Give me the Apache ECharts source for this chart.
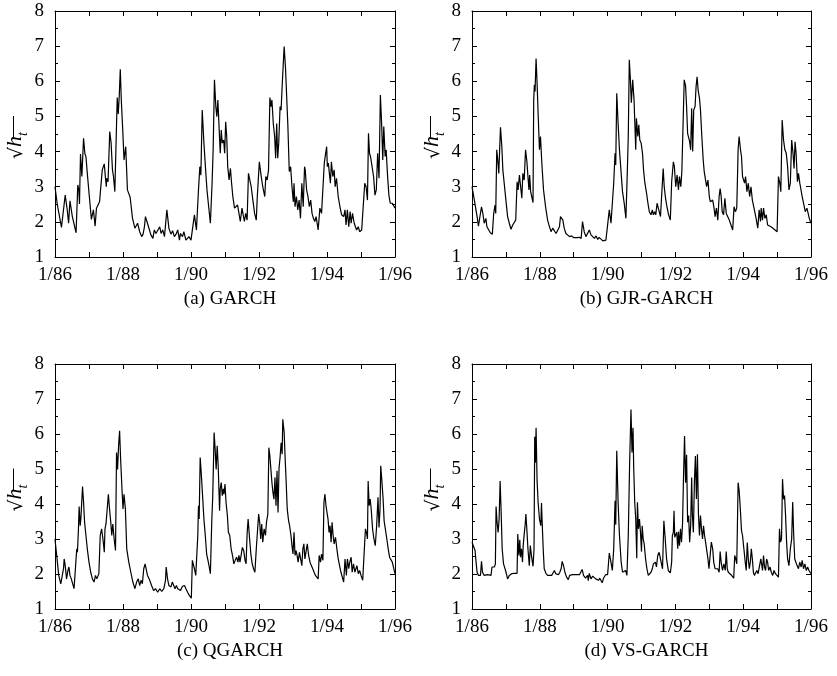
<!DOCTYPE html>
<html>
<head>
<meta charset="utf-8">
<script src="https://cdn.jsdelivr.net/npm/echarts@6/dist/echarts.min.js"></script>
<style>
html,body{margin:0;padding:0;background:#fff;}
#chart{width:837px;height:676px;}
</style>
</head>
<body>
<div id="chart"></div>
<script>
// time = years since 1/86
const tickLabels = ['1/86','1/88','1/90','1/92','1/94','1/96'];
const captions = ['(a) GARCH','(b) GJR-GARCH','(c) QGARCH','(d) VS-GARCH'];

const aT = [0,0.07,0.19,0.30,0.36,0.40,0.44,0.51,0.62,0.67,0.70,0.72,0.75,0.79,0.84,0.88,0.91,0.95,1.01,1.07,1.13,1.18,1.22,1.26,1.31,1.34,1.39,1.43,1.45,1.48,1.51,1.52,1.56,1.61,1.65,1.69,1.72,1.76,1.80,1.83,1.86,1.89,1.92,1.95,1.99,2.03,2.08,2.13,2.21,2.28,2.35,2.43,2.49,2.55,2.59,2.63,2.66,2.70,2.75,2.82,2.88,2.92,2.97,3.02,3.08,3.12,3.17,3.22,3.29,3.35,3.41,3.46,3.51,3.56,3.61,3.66,3.69,3.75,3.79,3.85,3.90,3.94,4.00,4.05,4.10,4.16,4.22,4.26,4.29,4.33,4.38,4.43,4.47,4.52,4.57,4.62,4.65,4.69,4.73,4.76,4.79,4.83,4.86,4.89,4.92,4.96,4.99,5.02,5.05,5.08,5.12,5.16,5.19,5.23,5.28,5.33,5.37,5.41,5.45,5.50,5.53,5.57,5.61,5.65,5.69,5.73,5.77,5.82,5.87,5.92,5.95,6.01,6.06,6.11,6.17,6.20,6.24,6.28,6.32,6.35,6.38,6.42,6.46,6.49,6.52,6.55,6.58,6.62,6.65,6.68,6.71,6.74,6.78,6.81,6.85,6.89,6.93,6.97,7.01,7.03,7.06,7.10,7.14,7.18,7.22,7.26,7.30,7.34,7.36,7.40,7.44,7.48,7.52,7.56,7.60,7.64,7.68,7.74,7.79,7.84,7.88,7.92,7.96,7.99,8.01,8.04,8.07,8.10,8.13,8.17,8.21,8.24,8.28,8.33,8.38,8.43,8.49,8.53,8.56,8.60,8.64,8.68,8.71,8.75,8.80,8.87,8.92,8.96,9.02,9.07,9.11,9.15,9.19,9.22,9.25,9.28,9.31,9.37,9.41,9.45,9.49,9.53,9.57,9.61,9.64,9.67,9.71,9.74,9.78,9.82,9.86,9.92,10.00];
const aV = [3.00,2.48,1.84,2.76,2.34,1.96,2.60,2.15,1.69,3.05,2.91,2.51,3.93,3.29,4.38,3.93,3.86,3.38,2.72,2.07,2.34,1.88,2.39,2.34,2.57,2.62,3.48,3.52,3.65,3.29,3.00,3.24,3.14,4.57,4.24,3.48,3.29,2.86,2.91,5.54,5.07,5.58,6.34,5.47,4.66,3.76,4.14,2.91,2.70,2.10,1.82,1.96,1.72,1.58,1.65,1.86,2.15,2.10,1.86,1.63,1.53,1.77,1.67,1.65,1.86,1.67,1.77,1.58,2.34,1.82,1.65,1.75,1.58,1.65,1.77,1.48,1.67,1.58,1.72,1.48,1.44,1.58,1.48,1.48,2.20,1.77,2.91,3.57,3.33,5.18,4.24,3.48,2.91,2.43,1.96,3.10,4.00,6.04,5.28,4.99,5.47,4.61,3.95,4.61,4.24,4.33,3.95,4.85,4.43,3.57,3.19,3.52,3.14,2.72,2.39,2.34,2.48,2.24,2.01,2.39,2.34,2.01,2.24,2.05,3.38,3.19,3.00,2.62,2.24,2.05,2.72,3.71,3.33,3.00,2.72,3.29,3.19,3.48,5.54,5.28,5.47,4.80,4.43,3.81,4.80,3.81,4.24,5.28,5.18,5.83,6.42,6.99,6.37,5.66,4.71,3.43,3.57,3.00,2.57,3.10,2.43,2.72,2.34,2.62,2.10,3.10,2.43,3.57,3.48,2.91,2.72,2.43,2.62,2.24,2.10,2.01,2.15,1.77,2.39,2.24,2.29,3.67,3.95,4.14,3.57,3.67,3.38,3.10,3.71,3.29,3.48,3.00,3.24,2.72,2.43,2.20,2.15,2.34,1.91,2.34,1.86,2.29,1.96,2.24,1.96,1.77,1.86,1.72,1.77,1.72,3.10,3.00,2.62,4.52,3.95,3.86,3.67,3.29,2.76,2.91,3.95,3.24,5.61,4.71,3.76,4.71,3.86,4.05,3.33,2.76,2.53,2.53,2.39];

const bT = [0.00,0.07,0.15,0.19,0.23,0.28,0.32,0.36,0.41,0.44,0.49,0.54,0.60,0.64,0.68,0.70,0.73,0.76,0.79,0.84,0.88,0.91,0.95,1.00,1.05,1.10,1.15,1.20,1.25,1.29,1.33,1.36,1.40,1.44,1.47,1.50,1.54,1.58,1.62,1.65,1.68,1.70,1.73,1.77,1.80,1.82,1.84,1.86,1.89,1.92,1.95,1.99,2.02,2.06,2.11,2.17,2.23,2.28,2.33,2.38,2.43,2.48,2.53,2.58,2.61,2.65,2.68,2.72,2.77,2.82,2.88,2.94,3.00,3.05,3.10,3.16,3.22,3.26,3.31,3.36,3.41,3.46,3.51,3.56,3.61,3.66,3.71,3.75,3.80,3.86,3.90,3.95,4.00,4.05,4.10,4.14,4.18,4.22,4.24,4.27,4.31,4.35,4.40,4.44,4.49,4.54,4.58,4.61,4.64,4.67,4.70,4.74,4.78,4.83,4.85,4.89,4.92,4.95,4.99,5.03,5.06,5.10,5.15,5.19,5.23,5.28,5.32,5.35,5.39,5.42,5.46,5.51,5.56,5.60,5.64,5.67,5.71,5.75,5.80,5.85,5.89,5.94,5.97,6.01,6.05,6.09,6.12,6.16,6.19,6.22,6.26,6.30,6.33,6.36,6.39,6.42,6.45,6.48,6.51,6.54,6.58,6.61,6.64,6.67,6.71,6.74,6.78,6.82,6.85,6.89,6.92,6.96,7.00,7.03,7.07,7.10,7.14,7.17,7.21,7.25,7.29,7.32,7.35,7.38,7.42,7.46,7.50,7.54,7.59,7.64,7.69,7.73,7.77,7.81,7.85,7.88,7.92,7.95,7.98,8.01,8.04,8.07,8.11,8.15,8.19,8.23,8.27,8.33,8.38,8.43,8.47,8.51,8.53,8.57,8.60,8.64,8.68,8.72,8.77,8.82,8.87,8.94,9.00,9.04,9.08,9.11,9.15,9.19,9.23,9.27,9.31,9.35,9.39,9.43,9.47,9.50,9.53,9.56,9.60,9.63,9.67,9.71,9.74,9.78,9.83,9.88,9.95,10.00];
const bV = [3.00,2.62,2.15,1.88,1.91,2.43,2.24,1.96,2.10,1.86,1.82,1.69,1.65,2.24,2.48,2.24,4.05,3.76,3.38,4.69,4.14,3.48,3.10,2.62,2.15,1.96,1.79,1.91,1.91,2.05,3.14,2.91,3.33,2.95,2.67,3.38,3.19,4.05,3.71,3.29,2.91,3.33,2.86,2.81,2.55,5.45,5.90,5.71,6.65,5.94,5.09,4.05,4.43,3.67,2.91,2.43,2.05,1.88,1.72,1.82,1.86,1.67,1.63,1.86,2.15,2.20,2.05,1.82,1.67,1.63,1.58,1.60,1.55,1.58,1.55,1.56,1.53,2.01,1.72,1.58,1.53,1.77,1.63,1.65,1.53,1.60,1.50,1.56,1.51,1.46,1.44,1.48,1.46,2.34,1.96,1.91,3.10,3.95,3.62,5.66,4.80,4.05,3.38,2.86,2.53,2.10,3.38,4.43,6.61,6.09,5.39,6.04,5.47,4.05,4.95,4.43,4.76,4.33,4.24,3.95,3.48,3.10,2.81,2.53,2.29,2.20,2.34,2.20,2.29,2.20,2.53,2.34,2.15,2.15,3.52,3.00,2.67,2.43,2.20,2.05,3.14,3.71,3.57,3.00,3.33,2.91,3.29,3.00,3.43,3.48,6.04,5.87,5.28,4.52,4.52,4.28,4.05,5.23,4.00,5.18,5.28,5.85,6.13,5.75,5.52,5.18,4.43,3.76,3.43,3.19,3.00,3.19,2.72,2.57,2.53,2.62,2.39,2.15,2.39,2.05,2.72,2.95,2.72,2.29,2.20,2.67,2.24,2.20,2.05,1.91,1.77,2.43,2.29,2.39,4.05,4.43,4.05,3.86,3.29,3.33,3.10,3.29,2.86,3.10,2.72,3.00,2.62,2.34,2.10,1.82,2.34,2.01,2.39,2.05,2.39,2.10,2.20,1.91,1.96,1.86,1.86,1.77,1.72,3.29,3.10,2.86,4.90,4.33,4.05,3.95,3.57,2.91,3.10,4.33,3.95,3.52,4.28,3.95,3.14,3.38,3.10,3.05,2.72,2.53,2.29,2.39,2.10,1.96];

const cT = [0.00,0.05,0.11,0.17,0.21,0.25,0.27,0.30,0.34,0.38,0.41,0.44,0.48,0.52,0.56,0.60,0.64,0.66,0.69,0.71,0.74,0.76,0.81,0.84,0.87,0.91,0.95,1.00,1.05,1.10,1.15,1.19,1.23,1.29,1.33,1.37,1.41,1.45,1.47,1.50,1.54,1.57,1.60,1.64,1.67,1.70,1.74,1.78,1.81,1.84,1.87,1.90,1.93,1.97,2.00,2.03,2.07,2.11,2.17,2.23,2.29,2.35,2.40,2.45,2.49,2.53,2.57,2.61,2.65,2.68,2.72,2.77,2.84,2.90,2.96,3.02,3.08,3.14,3.20,3.25,3.27,3.31,3.35,3.41,3.45,3.49,3.53,3.57,3.61,3.65,3.69,3.75,3.81,3.85,3.90,3.95,4.01,4.04,4.10,4.14,4.20,4.22,4.24,4.27,4.30,4.34,4.38,4.42,4.46,4.49,4.53,4.57,4.61,4.64,4.68,4.71,4.74,4.77,4.80,4.84,4.86,4.89,4.92,4.95,4.97,5.00,5.03,5.07,5.10,5.14,5.18,5.22,5.26,5.30,5.34,5.38,5.41,5.44,5.48,5.51,5.55,5.59,5.62,5.65,5.68,5.72,5.76,5.80,5.84,5.88,5.92,5.96,5.99,6.02,6.05,6.08,6.11,6.15,6.19,6.22,6.26,6.29,6.32,6.35,6.38,6.41,6.44,6.47,6.50,6.53,6.56,6.59,6.62,6.65,6.68,6.70,6.74,6.77,6.80,6.83,6.87,6.90,6.94,6.97,7.00,7.03,7.06,7.09,7.12,7.15,7.19,7.23,7.26,7.29,7.32,7.35,7.38,7.42,7.46,7.50,7.54,7.58,7.62,7.66,7.70,7.74,7.77,7.81,7.84,7.88,7.91,7.94,7.97,8.00,8.03,8.06,8.09,8.12,8.15,8.18,8.21,8.25,8.29,8.33,8.37,8.41,8.45,8.49,8.53,8.57,8.60,8.64,8.67,8.71,8.74,8.78,8.82,8.85,8.88,8.92,8.96,9.00,9.05,9.10,9.13,9.16,9.19,9.21,9.24,9.27,9.30,9.34,9.38,9.42,9.46,9.50,9.53,9.56,9.58,9.61,9.65,9.68,9.72,9.76,9.80,9.84,9.88,9.92,9.96,10.00];
const cV = [3.00,2.53,1.96,1.72,1.69,2.15,2.43,2.24,1.86,2.10,2.20,1.96,1.86,1.72,1.58,2.15,2.72,2.62,3.29,3.93,3.38,3.57,4.50,4.05,3.48,3.10,2.72,2.34,2.05,1.86,1.77,1.96,1.86,2.01,3.10,3.29,3.00,2.62,3.29,3.43,3.48,4.28,3.90,3.48,3.10,3.43,3.00,2.67,5.47,4.99,5.66,6.09,5.28,4.43,3.86,4.28,3.86,2.72,2.34,2.05,1.77,1.58,1.77,1.86,1.67,1.82,1.72,2.15,2.29,2.24,1.96,1.86,1.67,1.53,1.58,1.48,1.58,1.50,1.58,1.82,2.20,1.86,1.67,1.63,1.77,1.72,1.58,1.67,1.58,1.63,1.53,1.65,1.67,1.58,1.48,1.39,1.31,2.39,2.15,1.96,3.10,3.95,3.57,5.33,4.90,4.24,3.57,3.10,2.57,2.43,2.24,2.01,3.48,4.24,6.04,5.56,4.99,5.66,5.09,3.81,4.43,4.61,4.24,4.43,4.28,4.57,4.05,3.67,3.19,3.10,2.72,2.53,2.29,2.39,2.48,2.34,2.53,2.34,2.57,2.76,2.67,2.39,2.29,3.14,3.57,3.05,2.57,2.29,2.15,2.05,2.72,3.29,3.71,3.48,3.00,3.43,2.91,3.29,3.10,3.48,3.71,5.61,5.37,4.99,4.61,4.33,4.14,4.76,3.95,4.95,3.76,5.04,5.33,5.75,5.42,6.42,6.04,5.28,4.61,3.86,3.52,3.38,3.10,2.81,2.57,3.19,2.53,2.67,2.53,2.34,2.62,2.57,2.24,2.72,2.86,2.43,2.62,2.86,2.53,2.34,2.24,2.15,2.05,1.96,1.91,1.86,2.53,2.34,2.57,2.39,4.05,4.28,3.95,4.00,3.57,3.19,3.38,2.91,3.48,3.10,2.86,3.05,2.72,2.43,2.24,2.05,1.91,1.77,2.43,1.96,2.43,2.15,2.34,2.48,2.05,2.29,2.05,2.15,2.24,2.01,2.10,1.96,1.82,1.82,3.29,3.19,3.00,4.66,3.95,4.14,3.86,3.29,3.00,2.81,3.38,4.19,3.33,3.86,5.09,4.71,4.14,3.52,3.52,3.00,2.72,2.48,2.53,2.34,2.34,2.01];

const dT = [0.00,0.05,0.09,0.12,0.15,0.19,0.25,0.28,0.31,0.36,0.41,0.46,0.51,0.56,0.59,0.62,0.66,0.69,0.71,0.74,0.77,0.80,0.83,0.86,0.89,0.93,0.99,1.05,1.10,1.17,1.25,1.33,1.35,1.38,1.41,1.43,1.46,1.49,1.51,1.54,1.57,1.59,1.62,1.65,1.69,1.72,1.76,1.80,1.83,1.85,1.87,1.89,1.92,1.95,1.99,2.03,2.05,2.07,2.10,2.13,2.18,2.23,2.29,2.35,2.39,2.43,2.47,2.51,2.55,2.59,2.63,2.66,2.70,2.74,2.79,2.84,2.88,2.92,2.97,3.02,3.07,3.12,3.17,3.22,3.25,3.29,3.35,3.41,3.43,3.46,3.51,3.56,3.61,3.65,3.69,3.73,3.77,3.80,3.84,3.88,3.94,4.00,4.05,4.10,4.14,4.18,4.22,4.24,4.27,4.31,4.35,4.40,4.44,4.49,4.53,4.57,4.61,4.65,4.69,4.72,4.75,4.77,4.80,4.83,4.86,4.88,4.91,4.94,4.97,5.00,5.02,5.05,5.08,5.12,5.16,5.20,5.24,5.28,5.32,5.35,5.38,5.41,5.44,5.48,5.52,5.56,5.60,5.62,5.66,5.70,5.74,5.79,5.85,5.89,5.91,5.94,5.96,5.98,6.01,6.04,6.07,6.09,6.12,6.15,6.18,6.21,6.24,6.27,6.30,6.33,6.36,6.39,6.42,6.45,6.48,6.50,6.53,6.56,6.59,6.62,6.65,6.68,6.71,6.74,6.77,6.80,6.83,6.86,6.89,6.93,6.96,6.99,7.02,7.06,7.10,7.13,7.17,7.21,7.25,7.29,7.32,7.35,7.39,7.43,7.47,7.50,7.53,7.56,7.60,7.64,7.68,7.72,7.75,7.78,7.81,7.85,7.88,7.91,7.95,7.98,8.02,8.06,8.09,8.12,8.15,8.18,8.21,8.24,8.27,8.30,8.33,8.36,8.40,8.44,8.48,8.52,8.55,8.57,8.60,8.63,8.66,8.69,8.72,8.75,8.79,8.83,8.87,8.91,8.95,8.99,9.04,9.07,9.10,9.13,9.16,9.19,9.22,9.25,9.28,9.31,9.35,9.39,9.43,9.46,9.49,9.52,9.56,9.59,9.63,9.67,9.71,9.74,9.78,9.82,9.86,9.90,9.94,10.00];
const dV = [2.91,2.86,2.67,2.34,2.05,1.96,1.96,2.36,2.05,1.96,1.96,1.98,1.96,1.96,2.20,2.22,2.20,2.29,3.93,3.48,3.19,3.57,4.66,3.76,2.72,2.29,2.10,1.86,1.96,2.01,2.02,2.02,3.14,2.53,2.98,2.48,2.72,2.34,2.81,3.14,3.43,3.71,3.24,2.72,2.24,2.81,2.48,2.22,2.72,5.92,5.18,6.18,4.66,4.05,3.57,3.38,4.03,3.48,2.72,2.15,2.02,1.96,1.96,1.96,2.03,2.10,2.01,1.96,1.98,2.05,2.15,2.36,2.24,2.05,1.91,1.84,1.96,1.94,1.98,1.94,1.98,1.94,1.98,1.96,2.13,1.96,1.88,1.96,1.81,2.02,1.86,1.94,1.90,1.86,1.91,1.82,1.88,1.84,1.75,1.88,1.98,1.98,2.60,2.34,2.10,2.72,4.09,3.41,5.52,4.05,3.10,2.34,2.05,2.05,2.10,1.96,3.10,5.18,6.70,5.47,6.18,5.04,4.05,3.57,2.45,4.05,3.29,3.57,3.19,2.64,3.38,3.00,2.86,2.43,2.15,1.96,1.91,2.05,2.15,2.29,2.24,2.34,2.20,2.53,2.62,2.57,2.24,2.15,3.52,3.00,2.43,2.10,2.03,2.34,3.10,3.19,3.81,3.05,3.00,3.19,2.72,3.21,2.81,3.29,2.91,3.43,4.80,5.94,4.61,5.41,3.48,3.67,2.91,3.38,4.76,3.71,3.19,4.61,5.37,4.14,5.42,3.71,3.10,3.67,3.29,3.00,3.38,3.10,2.91,2.95,2.43,2.15,2.10,2.91,2.72,2.34,2.15,2.10,2.15,2.05,2.64,2.34,2.10,2.29,2.10,2.64,2.15,2.05,2.02,1.98,1.96,1.88,2.53,2.43,2.29,4.61,4.38,3.95,3.24,3.10,2.72,2.34,2.10,2.90,2.43,2.15,2.34,2.72,2.43,2.05,1.96,2.01,2.10,2.01,1.96,2.43,2.24,2.10,2.53,2.20,2.10,2.43,2.34,2.10,2.20,2.05,1.96,2.10,2.01,1.96,1.91,3.29,2.91,3.00,4.71,4.14,4.24,3.67,2.91,2.43,2.24,2.72,3.00,4.06,3.10,2.43,2.48,2.24,2.15,2.34,2.20,2.39,2.15,2.29,2.10,2.20,2.10,2.01];

const seriesT = [aT, bT, cT, dT];
const seriesV = [aV, bV, cV, dV];

const FONT = 'Liberation Serif';
const grids = [
  {left: 55, top: 11, width: 340, height: 246},
  {left: 472, top: 11, width: 339, height: 246},
  {left: 55, top: 364, width: 340, height: 245},
  {left: 472, top: 364, width: 339, height: 245}
];

const xAxes = [], yAxes = [], series = [], titles = [], graphics = [];
grids.forEach((g, i) => {
  const common = {
    gridIndex: i, type: 'value', min: 0, max: 10, interval: 1,
    axisLine: {show: true, onZero: false, lineStyle: {color: '#000', width: 1}},
    axisTick: {show: true, inside: true, length: 5, lineStyle: {color: '#000', width: 1}},
    splitLine: {show: false}
  };
  xAxes.push(Object.assign({}, common, {
    position: 'bottom',
    axisLabel: {
      show: true, margin: 9, color: '#000', fontFamily: FONT, fontSize: 19,
      showMinLabel: true, showMaxLabel: true,
      formatter: v => (Math.round(v) % 2 === 0 ? tickLabels[Math.round(v) / 2] : '')
    }
  }));
  xAxes.push(Object.assign({}, common, {position: 'top', axisLabel: {show: false}}));

  const ycommon = {
    gridIndex: i, type: 'value', min: 1, max: 8, interval: 1,
    axisLine: {show: true, onZero: false, lineStyle: {color: '#000', width: 1}},
    axisTick: {show: true, inside: true, length: 5, lineStyle: {color: '#000', width: 1}},
    minorTick: {show: true, splitNumber: 2, length: 3, lineStyle: {color: '#000', width: 1}},
    splitLine: {show: false}, minorSplitLine: {show: false}
  };
  yAxes.push(Object.assign({}, ycommon, {
    position: 'left',
    axisLabel: {show: true, margin: 11, color: '#000', fontFamily: FONT, fontSize: 19},
    name: '{r|√}{h|h}{t|t}{sp| }',
    nameLocation: 'middle', nameRotate: 90, nameGap: 26,
    nameTextStyle: {
      color: '#000', fontFamily: FONT, fontSize: 20,
      rich: {
        r: {fontFamily: 'DejaVu Serif', fontSize: 19, color: '#000', lineHeight: 24, verticalAlign: 'bottom'},
        h: {fontFamily: FONT, fontStyle: 'italic', fontSize: 22, color: '#000', lineHeight: 24, verticalAlign: 'bottom'},
        t: {fontFamily: FONT, fontStyle: 'italic', fontSize: 14, color: '#000', lineHeight: 24, verticalAlign: 'bottom', padding: [0, 0, -4, 0]},
        sp: {fontSize: 10, width: 23, lineHeight: 24}
      }
    }
  }));
  yAxes.push(Object.assign({}, ycommon, {position: 'right', axisLabel: {show: false}}));

  const data = seriesT[i].map((t, k) => [t, seriesV[i][k]]);
  series.push({
    type: 'line', xAxisIndex: 2 * i, yAxisIndex: 2 * i, data: data,
    showSymbol: false, symbol: 'none', silent: true,
    lineStyle: {color: '#000', width: 1.2}, z: 3
  });

  titles.push({
    text: captions[i],
    left: g.left + g.width / 2, top: g.top + g.height + 28,
    textAlign: 'center',
    textStyle: {fontFamily: FONT, fontSize: 19, fontWeight: 'normal', color: '#000'}
  });

  // vinculum of the square-root sign in the y-axis title
  graphics.push({
    type: 'line', silent: true, z: 10,
    shape: {x1: g.left - 41.5, y1: g.top + g.height / 2 - 18, x2: g.left - 41.5, y2: g.top + g.height / 2 + 4},
    style: {stroke: '#000', lineWidth: 1}
  });
});

const chart = echarts.init(document.getElementById('chart'), null, {renderer: 'canvas'});
chart.setOption({
  animation: false,
  backgroundColor: '#fff',
  title: titles,
  grid: grids,
  xAxis: xAxes,
  yAxis: yAxes,
  series: series,
  graphic: graphics
});
</script>
</body>
</html>
